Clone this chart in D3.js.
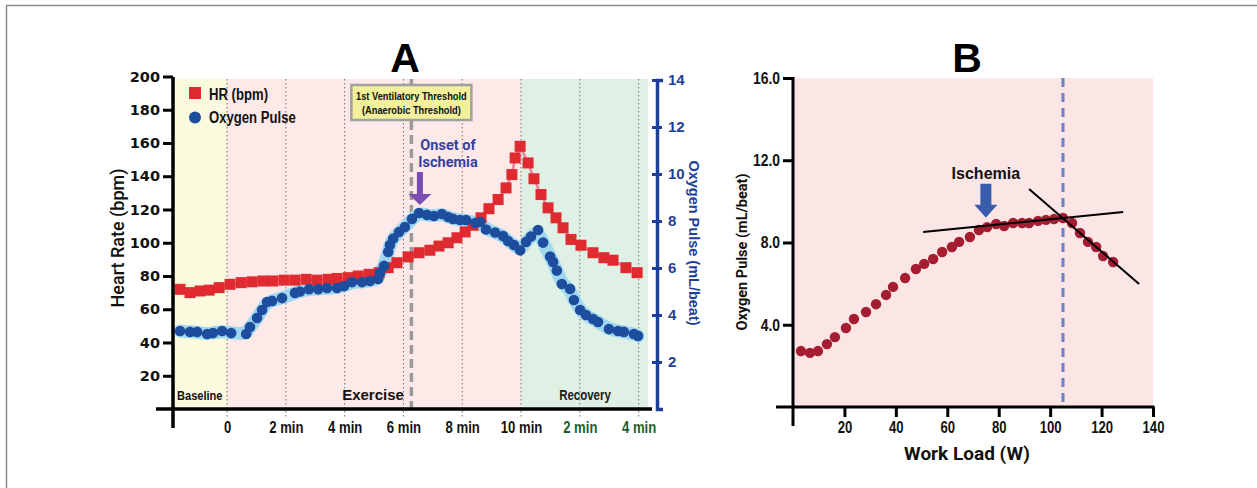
<!DOCTYPE html>
<html>
<head>
<meta charset="utf-8">
<script src="https://cdn.jsdelivr.net/npm/d3@7"></script>
<style>
body { margin: 0; background: #fff; }
svg { display: block; }
.nar { font-family: "Liberation Sans", Arial, sans-serif; font-weight: bold; }
</style>
</head>
<body>
<div id="chart"></div>
<script>
// ---- Panel A data (time in minutes from start of exercise) ----
var hrTime = [-1.60,-1.26,-0.92,-0.61,-0.27,0.10,0.48,0.85,1.22,1.56,1.94,2.31,2.69,3.06,3.44,3.74,4.12,4.46,4.83,5.17,
  5.48,5.78,6.16,6.53,6.90,7.21,7.52,7.82,8.10,8.37,8.64,8.91,9.22,9.49,9.69,9.80,9.97,10.24,10.44,10.68,
  10.92,11.19,11.43,11.70,12.04,12.45,12.82,13.13,13.57,13.95];
var hrValue = [72,70,71,71.5,73,75,76,76.5,77,77,77.5,77.5,78,77.5,78,78.5,79,80,81,82,
  85,88,91.5,94,95.5,98,100,103,106.5,110.5,115,120.5,126,133,141,151,158,148,138.5,129,
  121,115,109,102,98.5,94,91,89.5,85,82];
var o2Time = [-1.60,-1.26,-1.02,-0.68,-0.48,-0.17,0.14,0.65,0.78,1.02,1.19,1.36,1.53,1.87,2.31,2.48,2.79,3.10,3.40,3.74,
  3.98,4.25,4.59,4.86,5.14,5.20,5.34,5.48,5.54,5.65,5.85,6.05,6.29,6.53,6.80,7.04,7.31,7.52,7.69,7.93,
  8.13,8.44,8.61,8.81,9.12,9.39,9.56,9.76,9.97,10.17,10.34,10.58,10.75,10.99,11.09,11.22,11.39,11.67,11.80,12.01,
  12.21,12.45,12.62,12.99,13.30,13.50,13.84,13.98];
var o2Value = [3.32,3.28,3.28,3.19,3.23,3.32,3.23,3.19,3.49,3.87,4.21,4.55,4.60,4.72,4.94,5.00,5.10,5.10,5.15,5.15,
  5.23,5.40,5.40,5.45,5.53,5.79,6.09,6.68,6.98,7.25,7.53,7.74,8.09,8.34,8.26,8.21,8.30,8.17,8.09,8.04,
  8.04,7.91,7.96,7.64,7.51,7.36,7.15,6.98,6.75,7.11,7.34,7.62,7.08,6.49,6.26,5.89,5.32,5.11,4.64,4.21,
  4.00,3.83,3.70,3.40,3.32,3.28,3.19,3.11];
var timeTicks = [0,2,4,6,8,10,12,14];
var timeTickLabels = ["0","2 min","4 min","6 min","8 min","10 min","2 min","4 min"];
var hrTicks = [20,40,60,80,100,120,140,160,180,200];
var o2Ticks = [2,4,6,8,10,12,14];
var phaseNames = ["Baseline","Exercise","Recovery"];
var phaseStart = [-1.84,0,10];
var phaseEnd = [0,10,14.32];
var thresholdTime = 6.27;
var onsetTime = 6.56, onsetPulse = 8.68;

// ---- Panel B data ----
var loadW = [3.1,6.6,9.7,13.2,16.3,20.6,23.7,28.4,32.3,36.2,38.9,43.6,47.8,51.0,54.5,58.0,61.8,64.6,68.8,72.3,
  75.5,79.0,82.1,85.6,89.1,91.8,95.3,98.4,101.5,105.0,108.5,111.6,114.7,117.9,120.6,124.5];
var pulseB = [2.72,2.63,2.72,3.06,3.40,3.84,4.28,4.62,5.00,5.45,5.84,6.27,6.71,6.96,7.20,7.54,7.78,8.03,8.27,8.61,
  8.75,8.90,8.80,8.95,8.95,8.95,9.05,9.10,9.14,9.19,8.95,8.46,8.03,7.78,7.34,7.05];
var fitLoad1 = [50.6,128.4], fitPulse1 = [8.51,9.48];
var fitLoad2 = [91.8,134.6], fitPulse2 = [10.6,5.98];
var loadTicks = [20,40,60,80,100,120,140];
var pulseTicks = [4,8,12,16];
var ischemiaLoad = 105;
var arrowLoad = 75, arrowPulse = 9.2;

var SQ = 0.82; // horizontal squeeze for the condensed labels

var svg = d3.select("#chart").append("svg").attr("width", 1257).attr("height", 488);

// condensed bold label
function narrowText(x, y, str, size, anchor, fill) {
  return svg.append("text").attr("class", "nar")
    .attr("transform", "translate(" + x + "," + y + ") scale(" + SQ + ",1)")
    .attr("text-anchor", anchor || "start")
    .style("font-size", size + "px")
    .attr("fill", fill || "#111")
    .text(str);
}

// outer frame
svg.append("rect").attr("x", 6.5).attr("y", 5.5).attr("width", 1300).attr("height", 600)
  .attr("fill", "none").attr("stroke", "#8c8c8c").attr("stroke-width", 1.5);

// =============== Panel A ===============
var xA = d3.scaleLinear().domain([-1.84, 14.32]).range([173, 648]);
var yA = d3.scaleLinear().domain([0, 200]).range([409, 76.5]);
var yA2 = d3.scaleLinear().domain([0, 14]).range([409, 80]);
var phaseFill = ["#fafadf", "#fde9e8", "#dff0e4"];

svg.selectAll("rect.phase").data(phaseNames).enter().append("rect")
  .attr("class", "phase")
  .attr("x", function(d, i) { return xA(phaseStart[i]); })
  .attr("width", function(d, i) { return xA(phaseEnd[i]) - xA(phaseStart[i]); })
  .attr("y", 79).attr("height", 409 - 79)
  .attr("fill", function(d, i) { return phaseFill[i]; });

// dotted time grid
svg.selectAll("line.grid").data(timeTicks).enter().append("line")
  .attr("x1", function(d) { return xA(d); }).attr("x2", function(d) { return xA(d); })
  .attr("y1", 79).attr("y2", 418)
  .attr("stroke", "#6f6f6f").attr("stroke-width", 1).attr("stroke-dasharray", "1.5,2.5");

// threshold dashed line
svg.append("line").attr("x1", xA(thresholdTime)).attr("x2", xA(thresholdTime))
  .attr("y1", 79).attr("y2", 409)
  .attr("stroke", "#9a9a9a").attr("stroke-width", 3.5).attr("stroke-dasharray", "9,5");

// phase labels
narrowText(xA(phaseStart[0]) + 4, 400, phaseNames[0], 13.5, "start");
svg.append("text").attr("x", 373).attr("y", 400).attr("text-anchor", "middle")
  .style("font-family", "Liberation Sans, Arial, sans-serif").style("font-weight", "bold").style("font-size", "15px")
  .attr("fill", "#111").text(phaseNames[1]);
narrowText(585, 400, phaseNames[2], 14, "middle", "#1a1a1a");

// oxygen pulse band + HR line
var o2Pts = o2Time.map(function(t, i) { return [t, o2Value[i]]; });
var hrPts = hrTime.map(function(t, i) { return [t, hrValue[i]]; });

svg.append("path").datum(o2Pts)
  .attr("d", d3.line().x(function(d) { return xA(d[0]); }).y(function(d) { return yA2(d[1]); }).curve(d3.curveBasis))
  .attr("fill", "none").attr("stroke", "#9fd8f1").attr("stroke-width", 13)
  .attr("stroke-linecap", "round").attr("stroke-linejoin", "round");

svg.append("path").datum(hrPts)
  .attr("d", d3.line().x(function(d) { return xA(d[0]); }).y(function(d) { return yA(d[1]); }))
  .attr("fill", "none").attr("stroke", "#f080a0").attr("stroke-width", 2.5);

svg.selectAll("rect.hr").data(hrPts).enter().append("rect")
  .attr("class", "hr")
  .attr("x", function(d) { return xA(d[0]) - 5.5; })
  .attr("y", function(d) { return yA(d[1]) - 5.5; })
  .attr("width", 11).attr("height", 11)
  .attr("fill", "#df2a30");

svg.selectAll("circle.o2").data(o2Pts).enter().append("circle")
  .attr("class", "o2")
  .attr("cx", function(d) { return xA(d[0]); })
  .attr("cy", function(d) { return yA2(d[1]); })
  .attr("r", 5.3)
  .attr("fill", "#1d4e9e");

// threshold box
var boxX = xA(thresholdTime);
svg.append("rect").attr("x", boxX - 60).attr("y", 85).attr("width", 120).attr("height", 35)
  .attr("fill", "#f3f09c").attr("stroke", "#a0a0a0").attr("stroke-width", 2.5);
narrowText(boxX, 100, "1st Ventilatory Threshold", 11.3, "middle");
narrowText(boxX, 113.5, "(Anaerobic Threshold)", 11.3, "middle");

// onset of ischemia annotation
var ax = xA(onsetTime), ay = yA2(onsetPulse);
svg.append("path")
  .attr("d", "M" + (ax - 3) + "," + (ay - 33) + "H" + (ax + 3) + "V" + (ay - 11) + "H" + (ax + 11.5) +
    "L" + ax + "," + ay + "L" + (ax - 11.5) + "," + (ay - 11) + "H" + (ax - 3) + "Z")
  .attr("fill", "#7a4db5");
svg.append("text").attr("x", 448).attr("y", 150).attr("text-anchor", "middle")
  .style("font-family", "Roboto, sans-serif").style("font-weight", "bold").style("font-size", "14.5px")
  .attr("fill", "#3a3f9e").text("Onset of");
svg.append("text").attr("x", 448).attr("y", 167).attr("text-anchor", "middle")
  .style("font-family", "Roboto, sans-serif").style("font-weight", "bold").style("font-size", "14.5px")
  .attr("fill", "#3a3f9e").text("Ischemia");

// legend
svg.append("rect").attr("x", 189).attr("y", 87).attr("width", 12).attr("height", 12).attr("fill", "#df2a30");
narrowText(209, 100, "HR (bpm)", 16, "start");
svg.append("circle").attr("cx", 195).attr("cy", 117.5).attr("r", 6).attr("fill", "#1d4e9e");
narrowText(209, 122.5, "Oxygen Pulse", 16, "start");

// axes A
var gLeft = svg.append("g").attr("transform", "translate(173,0)")
  .call(d3.axisLeft(yA).tickValues(hrTicks).tickSize(10).tickPadding(3));
gLeft.select(".domain").remove();
gLeft.selectAll(".tick line").attr("stroke", "#000").attr("stroke-width", 3);
gLeft.selectAll(".tick text").style("font-family", "DejaVu Sans, sans-serif").style("font-weight", "bold")
  .style("font-size", "14.5px").attr("fill", "#111");

svg.append("line").attr("x1", 173).attr("x2", 173).attr("y1", 77).attr("y2", 428)
  .attr("stroke", "#000").attr("stroke-width", 3.5);

var gBottom = svg.append("g").attr("transform", "translate(0,409)")
  .call(d3.axisBottom(xA).tickValues(timeTicks).tickSize(0)
    .tickFormat(function(d, i) { return timeTickLabels[i]; }));
gBottom.select(".domain").remove();
gBottom.selectAll(".tick text").attr("class", "nar").attr("y", 24).attr("dy", 0)
  .attr("transform", "scale(" + SQ + ",1)")
  .style("font-size", "16px")
  .attr("fill", function(d) { return d > 10 ? "#1d5e2a" : "#111"; });

svg.append("line").attr("x1", 156).attr("x2", 652).attr("y1", 409).attr("y2", 409)
  .attr("stroke", "#000").attr("stroke-width", 3.5);

var gRight = svg.append("g").attr("transform", "translate(657,0)")
  .call(d3.axisRight(yA2).tickValues(o2Ticks).tickSize(5).tickSizeOuter(6).tickPadding(6)
    .tickFormat(d3.format("d")));
gRight.select(".domain").attr("stroke", "#1e3f99").attr("stroke-width", 3.5);
gRight.selectAll(".tick line").attr("x1", -5).attr("stroke", "#1e3f99").attr("stroke-width", 3);
gRight.selectAll(".tick text").style("font-family", "Liberation Sans, Arial, sans-serif").style("font-weight", "bold")
  .style("font-size", "15px").attr("fill", "#1e3f99");

// axis titles A
svg.append("text").attr("transform", "translate(124,238) rotate(-90)").attr("text-anchor", "middle")
  .style("font-family", "Roboto, sans-serif").style("font-weight", 500).style("font-size", "18px")
  .attr("fill", "#111").text("Heart Rate (bpm)");
svg.append("text").attr("transform", "translate(689,243) rotate(90)").attr("text-anchor", "middle")
  .style("font-family", "Liberation Sans, Arial, sans-serif").style("font-weight", "bold").style("font-size", "14.5px")
  .attr("fill", "#1e3f99").text("Oxygen Pulse (mL/beat)");

svg.append("text").attr("x", 405).attr("y", 72).attr("text-anchor", "middle")
  .style("font-family", "Liberation Sans, Arial, sans-serif").style("font-weight", "bold").style("font-size", "41px")
  .attr("fill", "#000").text("A");

// =============== Panel B ===============
var xB = d3.scaleLinear().domain([0, 140]).range([793, 1153]);
var yB = d3.scaleLinear().domain([0, 16]).range([407, 78]);

svg.append("rect").attr("x", xB(0)).attr("y", yB(16)).attr("width", xB(140) - xB(0)).attr("height", yB(0) - yB(16))
  .attr("fill", "#fbe5e5");

svg.append("line").attr("x1", xB(ischemiaLoad)).attr("x2", xB(ischemiaLoad))
  .attr("y1", yB(16)).attr("y2", yB(0))
  .attr("stroke", "#6b80c8").attr("stroke-width", 3).attr("stroke-dasharray", "9,6");

var bPts = loadW.map(function(w, i) { return [w, pulseB[i]]; });
svg.selectAll("circle.b").data(bPts).enter().append("circle")
  .attr("class", "b")
  .attr("cx", function(d) { return xB(d[0]); })
  .attr("cy", function(d) { return yB(d[1]); })
  .attr("r", 5.2)
  .attr("fill", "#a51d30");

[[fitLoad1, fitPulse1], [fitLoad2, fitPulse2]].forEach(function(f) {
  svg.append("line")
    .attr("x1", xB(f[0][0])).attr("y1", yB(f[1][0]))
    .attr("x2", xB(f[0][1])).attr("y2", yB(f[1][1]))
    .attr("stroke", "#000").attr("stroke-width", 2);
});

// ischemia arrow
var bx = xB(arrowLoad), by = yB(arrowPulse);
svg.append("path")
  .attr("d", "M" + (bx - 5.5) + "," + (by - 34) + "H" + (bx + 5.5) + "V" + (by - 13) + "H" + (bx + 11.5) +
    "L" + bx + "," + by + "L" + (bx - 11.5) + "," + (by - 13) + "H" + (bx - 5.5) + "Z")
  .attr("fill", "#3a5cac");
svg.append("text").attr("x", bx).attr("y", 179).attr("text-anchor", "middle")
  .style("font-family", "Liberation Sans, Arial, sans-serif").style("font-weight", "bold").style("font-size", "16px")
  .attr("fill", "#111").text("Ischemia");

// axes B
var gBL = svg.append("g").attr("transform", "translate(793,0)")
  .call(d3.axisLeft(yB).tickValues(pulseTicks).tickSize(10).tickPadding(4).tickFormat(d3.format(".1f")));
gBL.select(".domain").remove();
gBL.selectAll(".tick line").attr("stroke", "#000").attr("stroke-width", 3);
gBL.selectAll(".tick text").attr("class", "nar").attr("x", -13 / SQ)
  .attr("transform", "scale(" + SQ + ",1)")
  .style("font-size", "17px").attr("fill", "#111");

var gBB = svg.append("g").attr("transform", "translate(0,407)")
  .call(d3.axisBottom(xB).tickValues(loadTicks).tickSize(10).tickPadding(6));
gBB.select(".domain").remove();
gBB.selectAll(".tick line").attr("stroke", "#000").attr("stroke-width", 3);
gBB.selectAll(".tick text").attr("class", "nar").attr("y", 26).attr("dy", 0)
  .attr("transform", "scale(" + SQ + ",1)")
  .style("font-size", "16px").attr("fill", "#111");

svg.append("line").attr("x1", 793).attr("x2", 793).attr("y1", 77).attr("y2", 426)
  .attr("stroke", "#000").attr("stroke-width", 3);
svg.append("line").attr("x1", 776).attr("x2", 1154.5).attr("y1", 407).attr("y2", 407)
  .attr("stroke", "#000").attr("stroke-width", 3);

svg.append("text").attr("x", 967).attr("y", 460).attr("text-anchor", "middle")
  .style("font-family", "Roboto, sans-serif").style("font-weight", "bold").style("font-size", "19px")
  .attr("fill", "#111").text("Work Load (W)");
svg.append("text").attr("transform", "translate(747,252) rotate(-90)").attr("text-anchor", "middle")
  .style("font-family", "Roboto, sans-serif").style("font-weight", "bold").style("font-size", "14.5px")
  .attr("fill", "#111").text("Oxygen Pulse (mL/beat)");

svg.append("text").attr("x", 967).attr("y", 72).attr("text-anchor", "middle")
  .style("font-family", "Liberation Sans, Arial, sans-serif").style("font-weight", "bold").style("font-size", "41px")
  .attr("fill", "#000").text("B");
</script>
</body>
</html>
